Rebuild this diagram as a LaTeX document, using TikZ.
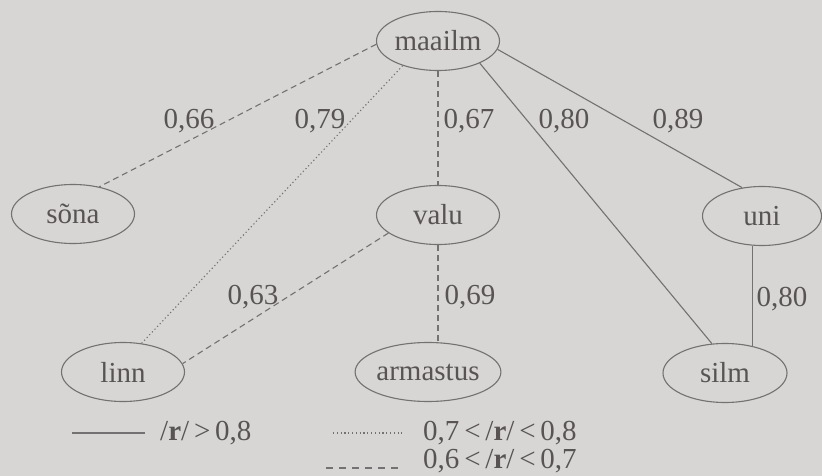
\documentclass[tikz,border=0pt]{standalone}
\usepackage{fontspec}
\setmainfont{Liberation Serif}
\usetikzlibrary{shapes.geometric}
\definecolor{bg}{RGB}{216,214,212}
\definecolor{ink}{RGB}{88,84,84}
\definecolor{ln}{RGB}{115,113,113}
\begin{document}
\begin{tikzpicture}[x=1pt,y=-1pt,
  word/.style={ellipse,draw=ln,line width=1.1pt,minimum width=123pt,minimum height=59pt,inner sep=0pt,text=ink,font=\fontsize{29}{34}\selectfont},
  lab/.style={text=ink,font=\fontsize{29}{34}\selectfont,inner sep=0pt},
  solidc/.style={draw=ln,line width=1.1pt},
  dotc/.style={draw=ln,line width=1.1pt,dash pattern=on 1.2pt off 2.6pt},
  dashc/.style={draw=ln,line width=1.1pt,dash pattern=on 6pt off 4pt},
  keydash/.style={draw=ln,line width=1.1pt,dash pattern=on 7pt off 6pt}]
\fill[bg] (0,0) rectangle (822,476);
\useasboundingbox (0,0) rectangle (822,476);
\node[word] (maailm) at (438,41) {maailm};
\node[word] (sona) at (73,214) {sõna};
\node[word] (valu) at (438,215) {valu};
\node[word,minimum width=119pt] (uni) at (762,216) {uni};
\node[word] (linn) at (123,372) {linn};
\node[word] (armastus) at (428,372) {armastus};
\node[word,minimum width=124pt] (silm) at (725,373) {silm};
\draw[dashc] (maailm.183) -- (sona.46);
\draw[dotc] (maailm.215) -- (linn.57);
\draw[dashc] (maailm.south) -- (valu.north);
\draw[solidc] (maailm.332) -- (silm.114);
\draw[solidc] (maailm.352) -- (uni.125);
\draw[dashc] (valu.200) -- (linn.8);
\draw[dashc] (valu.south) -- (valu.south |- armastus.north);
\draw[solidc] (uni.253) -- (uni.253 |- silm.44);
\node[lab] (l1) at (189,121) {0,66};
\node[lab] (l2) at (320,121) {0,79};
\node[lab] (l3) at (469,121) {0,67};
\node[lab] (l4) at (564,121) {0,80};
\node[lab] (l5) at (678,121) {0,89};
\node[lab] (l6) at (253,297) {0,63};
\node[lab] (l7) at (470,297) {0,69};
\node[lab] (l8) at (782,299) {0,80};
\coordinate (s1) at (72,433); \coordinate (s2) at (145,433);
\coordinate (d1) at (333,433); \coordinate (d2) at (402,433);
\coordinate (h1) at (326,468); \coordinate (h2) at (402,468);
\draw[solidc] (s1) -- (s2);
\draw[dotc] (d1) -- (d2);
\draw[keydash] (h1) -- (h2);
\node[lab,anchor=west] (k1) at (160,433) {/\textbf{r}/\,>\,0,8};
\node[lab,anchor=west] (k2) at (423,433) {0,7\,<\,/\textbf{r}/\,<\,0,8};
\node[lab,anchor=west] (k3) at (423,461) {0,6\,<\,/\textbf{r}/\,<\,0,7};
\end{tikzpicture}
\end{document}
